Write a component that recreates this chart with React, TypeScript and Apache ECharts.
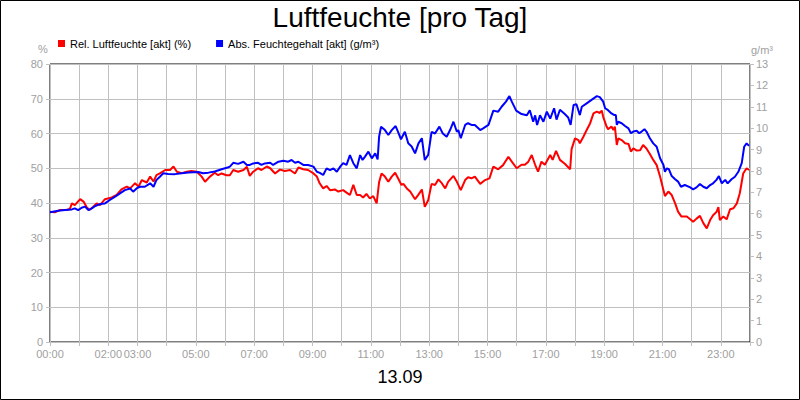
import React, { useEffect, useRef } from "react";
import * as echarts from "echarts";

const TITLE = "Luftfeuchte [pro Tag]";
const DATE_LABEL = "13.09";
const REL_NAME = "Rel. Luftfeuchte [akt] (%)";
const ABS_NAME = "Abs. Feuchtegehalt [akt] (g/m³)";
const LEFT_UNIT = "%";
const RIGHT_UNIT = "g/m³";

// hours of the day whose label is printed under the x axis
const labelledHours = [0, 2, 3, 5, 7, 9, 11, 13, 15, 17, 19, 21, 23];

// time in minutes after midnight
const relTime = [0,10,21,34,41,45,51,62,69,75,81,89,96,103,113,127,137,147,158,165,175,182,189,199,206,213,219,226,237,247,254,261,271,281,291,302,312,319,329,339,346,353,363,370,377,387,398,405,411,418,428,435,446,453,463,473,483,494,504,511,521,531,542,549,555,562,569,576,586,593,603,610,617,624,631,638,644,651,658,665,672,677,682,689,696,703,710,716,723,727,734,741,751,758,765,771,778,785,792,799,806,813,819,830,837,845,854,860,867,874,885,895,904,912,922,932,943,950,960,970,977,984,991,998,1004,1011,1018,1029,1034,1041,1049,1059,1070,1073,1080,1087,1090,1097,1104,1111,1118,1125,1131,1135,1138,1145,1148,1155,1159,1162,1166,1169,1176,1183,1190,1195,1200,1207,1214,1220,1227,1234,1241,1248,1255,1262,1265,1272,1279,1286,1292,1299,1310,1317,1323,1330,1337,1344,1351,1358,1364,1371,1375,1378,1385,1392,1399,1406,1413,1419,1426,1433,1438];
const relValue = [37.5,37.3,38.0,38.0,38.3,39.9,39.4,41.1,40.4,38.9,38.0,38.9,39.9,39.4,41.1,41.6,42.3,43.9,44.7,44.2,45.7,44.7,46.6,45.9,47.6,46.2,48.0,48.5,49.5,49.5,50.5,49.0,48.6,49.0,49.2,49.0,47.6,46.1,47.6,48.7,48.0,48.5,48.0,48.0,49.5,49.0,49.5,50.4,47.8,49.0,50.0,49.5,50.5,50.0,48.5,49.6,49.2,49.5,48.5,50.2,49.7,49.5,48.5,47.6,45.6,44.2,44.9,43.7,43.9,43.3,43.7,43.0,42.3,45.2,42.3,42.3,41.6,42.6,41.3,42.0,39.9,46.0,48.5,47.6,46.1,47.6,48.7,47.1,45.2,45.5,44.2,43.3,41.1,42.4,43.9,38.9,40.8,45.5,45.2,46.8,45.7,44.2,46.1,47.8,46.1,43.7,46.6,47.4,47.1,47.6,45.5,46.6,47.1,50.5,49.7,50.9,53.3,51.9,50.0,51.0,51.0,51.9,53.8,51.0,49.0,51.9,51.0,53.8,52.4,55.0,52.4,51.3,49.7,55.5,58.6,58.1,57.2,59.0,61.0,62.9,65.8,66.3,65.9,66.6,64.8,62.0,61.2,62.0,61.0,62.0,56.7,58.6,58.1,57.2,57.0,54.8,55.7,55.1,55.2,56.7,55.7,54.1,52.4,50.9,47.6,43.7,42.0,43.3,42.3,39.9,37.5,36.1,36.1,35.3,34.6,35.5,36.3,34.2,32.7,35.1,36.5,37.4,38.8,35.1,36.1,35.3,38.2,38.5,39.9,42.8,48.5,50.0,49.5];

const absTime = [0,17,31,45,51,58,65,72,79,86,93,103,113,123,134,144,154,165,171,178,185,195,206,213,219,226,233,243,257,271,285,305,315,326,339,353,367,370,377,387,398,405,411,418,428,435,442,453,459,470,480,490,497,504,511,521,531,542,549,555,562,569,576,583,590,597,603,610,617,624,631,638,643,648,655,662,669,674,677,681,689,696,703,711,716,722,730,737,744,751,758,765,771,778,785,792,801,808,816,823,830,837,840,845,854,860,867,874,885,891,902,912,922,929,938,945,950,959,970,981,987,994,998,1002,1008,1015,1022,1029,1037,1042,1049,1059,1066,1071,1077,1083,1090,1094,1104,1114,1125,1131,1138,1142,1148,1155,1161,1164,1166,1169,1176,1183,1190,1195,1200,1207,1212,1217,1223,1227,1234,1241,1248,1255,1262,1265,1269,1273,1279,1286,1292,1298,1306,1317,1323,1330,1337,1344,1351,1358,1364,1371,1376,1382,1389,1394,1402,1409,1416,1423,1428,1433,1438];
const absValue = [6.07,6.14,6.17,6.2,6.25,6.17,6.28,6.33,6.17,6.25,6.36,6.45,6.48,6.64,6.8,6.95,7.1,7.18,7.03,7.18,7.26,7.26,7.42,7.26,7.58,7.73,7.89,7.86,7.85,7.89,7.93,7.95,7.89,7.92,7.97,8.08,8.17,8.2,8.38,8.33,8.43,8.28,8.28,8.35,8.38,8.28,8.35,8.38,8.28,8.43,8.48,8.43,8.51,8.38,8.43,8.28,8.28,8.2,7.96,7.91,7.81,8.12,8.04,8.12,7.96,8.2,8.36,8.28,8.74,8.36,8.12,8.74,8.51,8.67,8.9,8.59,8.82,8.54,9.6,10.07,9.91,9.68,9.91,10.1,9.83,9.48,9.83,9.29,9.14,8.82,9.29,9.53,8.51,8.75,9.83,9.75,10.07,9.75,9.6,9.91,10.3,9.83,9.91,9.53,10.15,10.23,10.15,10.15,9.91,9.99,10.15,10.82,10.77,11.0,11.24,11.5,11.24,10.82,10.66,10.6,10.84,10.3,10.6,10.15,10.6,10.3,10.77,10.45,10.93,10.4,10.86,10.66,10.5,10.15,11.08,11.12,10.61,11.0,11.16,11.32,11.5,11.45,11.24,10.93,10.84,10.69,10.61,10.61,10.15,10.3,10.23,10.1,9.99,9.76,9.84,9.88,9.76,9.84,9.95,9.84,9.53,9.29,9.13,8.59,8.28,7.96,8.12,8.08,7.76,7.61,7.5,7.26,7.34,7.23,7.14,7.23,7.39,7.26,7.19,7.34,7.42,7.58,7.76,7.42,7.58,7.42,7.61,7.73,7.96,8.36,9.13,9.29,9.17];

const FONT = "'Liberation Sans', Arial, sans-serif";
const GRAY_TEXT = "#a0a0a0";
const GRID_GRAY = "#c0c0c0";

function hourLabel(min: number): string {
  const h = Math.round(min / 60);
  if (labelledHours.indexOf(h) < 0) return "";
  return (h < 10 ? "0" : "") + h + ":00";
}

export default function App() {
  const ref = useRef<HTMLDivElement>(null);

  useEffect(() => {
    if (!ref.current) return;
    const chart = echarts.init(ref.current, undefined, { renderer: "svg" });
    const relData = relTime.map((t, i) => [t, relValue[i]]);
    const absData = absTime.map((t, i) => [t, absValue[i]]);

    chart.setOption({
      animation: false,
      backgroundColor: "#ffffff",
      textStyle: { fontFamily: FONT },
      grid: {
        left: 50,
        right: 50,
        top: 64,
        bottom: 58,
        show: true,
        borderColor: "#000000",
        borderWidth: 1,
        backgroundColor: "transparent",
      },
      legend: {
        left: 58,
        top: 38,
        padding: 0,
        itemWidth: 7,
        itemHeight: 7,
        itemGap: 25,
        icon: "rect",
        textStyle: { color: "#000", fontSize: 11, fontFamily: FONT },
        data: [
          { name: REL_NAME, icon: "rect" },
          { name: ABS_NAME, icon: "rect" },
        ],
      },
      xAxis: {
        type: "value",
        min: 0,
        max: 1440,
        interval: 60,
        axisLine: { show: false },
        axisTick: { show: true, length: 4, lineStyle: { color: GRID_GRAY } },
        splitLine: { show: true, lineStyle: { color: GRID_GRAY, width: 1 } },
        axisLabel: {
          color: GRAY_TEXT,
          fontSize: 11,
          fontFamily: FONT,
          margin: 6,
          showMinLabel: true,
          showMaxLabel: true,
          formatter: (v: number) => hourLabel(v),
        },
      },
      yAxis: [
        {
          type: "value",
          position: "left",
          min: 0,
          max: 80,
          interval: 10,
          axisLine: { show: false },
          axisTick: { show: true, length: 4, lineStyle: { color: GRID_GRAY } },
          splitLine: { show: true, lineStyle: { color: GRID_GRAY, width: 1 } },
          axisLabel: { color: GRAY_TEXT, fontSize: 11, fontFamily: FONT, margin: 7 },
        },
        {
          type: "value",
          position: "right",
          min: 0,
          max: 13,
          interval: 1,
          axisLine: { show: false },
          axisTick: { show: true, length: 4, lineStyle: { color: GRID_GRAY } },
          splitLine: { show: false },
          axisLabel: { color: GRAY_TEXT, fontSize: 11, fontFamily: FONT, margin: 6 },
        },
      ],
      graphic: [
        {
          type: "rect",
          shape: { x: 0.5, y: 0.5, width: 799, height: 399 },
          style: { fill: "none", stroke: "#000", lineWidth: 1 },
          silent: true,
          z: 100,
        },
        {
          type: "text",
          x: 400,
          y: 17,
          style: {
            text: TITLE,
            fill: "#000",
            font: "28px " + FONT,
            textAlign: "center",
            textVerticalAlign: "middle",
          },
        },
        {
          type: "text",
          x: 400,
          y: 377,
          style: {
            text: DATE_LABEL,
            fill: "#000",
            font: "18px " + FONT,
            textAlign: "center",
            textVerticalAlign: "middle",
          },
        },
        {
          type: "text",
          x: 43,
          y: 49,
          style: {
            text: LEFT_UNIT,
            fill: GRAY_TEXT,
            font: "11px " + FONT,
            textAlign: "center",
            textVerticalAlign: "middle",
          },
        },
        {
          type: "text",
          x: 762,
          y: 50,
          style: {
            text: RIGHT_UNIT,
            fill: GRAY_TEXT,
            font: "11px " + FONT,
            textAlign: "center",
            textVerticalAlign: "middle",
          },
        },
      ],
      series: [
        {
          name: REL_NAME,
          type: "line",
          yAxisIndex: 0,
          data: relData,
          showSymbol: false,
          symbol: "none",
          color: "#ff0000",
          lineStyle: { color: "#ff0000", width: 2 },
          z: 3,
        },
        {
          name: ABS_NAME,
          type: "line",
          yAxisIndex: 1,
          data: absData,
          showSymbol: false,
          symbol: "none",
          color: "#0000ff",
          lineStyle: { color: "#0000ff", width: 2 },
          z: 4,
        },
      ],
    });

    return () => {
      chart.dispose();
    };
  }, []);

  return (
    <div
      ref={ref}
      style={{ position: "fixed", left: 0, top: 0, width: 800, height: 400, background: "#fff" }}
    />
  );
}
